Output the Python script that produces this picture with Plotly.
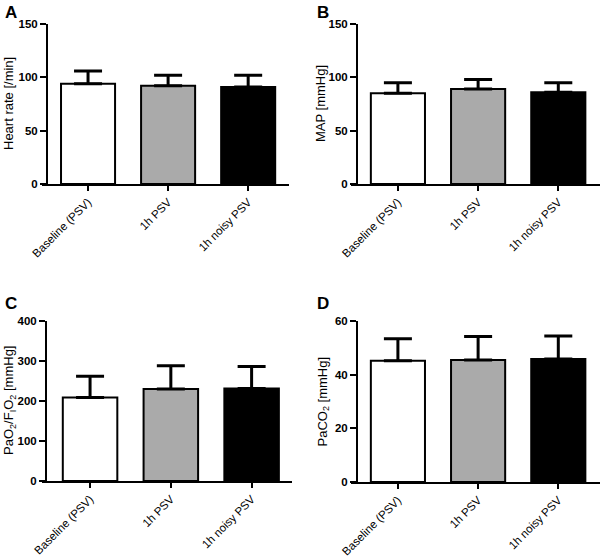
import plotly.graph_objects as go

categories = ["Baseline (PSV)", "1h PSV", "1h noisy PSV"]
bar_colors = ["#ffffff", "#aaaaaa", "#000000"]

hr_mean = [94, 92, 91]
hr_sd = [12, 10, 11]
map_mean = [85, 89, 86]
map_sd = [10, 9, 9]
pf_mean = [209, 230, 231]
pf_sd = [53, 58, 55]
paco2_mean = [45.2, 45.5, 45.8]
paco2_sd = [8.2, 8.7, 8.6]

W, H = 600, 558
FONT = "Liberation Sans, Arial, sans-serif"

panels = [
    dict(letter="A", mean=hr_mean, sd=hr_sd, yr=[0, 150], dt=50, title="Heart rate [/min]",
         xl=42, ya=47, xr=289, top=24, bot=184, xrange=[-0.575, 2.51], tx=9, lx=3, ly=1),
    dict(letter="B", mean=map_mean, sd=map_sd, yr=[0, 150], dt=50, title="MAP [mmHg]",
         xl=351, ya=357, xr=600, top=24, bot=184, xrange=[-0.585, 2.52], tx=321, lx=315, ly=1),
    dict(letter="C", mean=pf_mean, sd=pf_sd, yr=[0, 400], dt=100,
         title="PaO<sub>2</sub>/F<sub>I</sub>O<sub>2</sub> [mmHg]",
         xl=42, ya=46, xr=292, top=321, bot=481, xrange=[-0.595, 2.50], tx=9, lx=3, ly=292),
    dict(letter="D", mean=paco2_mean, sd=paco2_sd, yr=[0, 60], dt=20,
         title="PaCO<sub>2</sub> [mmHg]",
         xl=351, ya=357, xr=600, top=321, bot=482, xrange=[-0.585, 2.52], tx=323, lx=315, ly=292),
]

fig = go.Figure()
annotations = []
for i, p in enumerate(panels):
    n = "" if i == 0 else str(i + 1)
    xa, yaN = "x" + n, "y" + n
    fig.add_trace(go.Bar(
        x=[0, 1, 2], y=p["mean"], xaxis=xa, yaxis=yaN,
        width=0.675,
        marker=dict(color=bar_colors, line=dict(color="black", width=2)),
        error_y=dict(type="data", array=p["sd"], arrayminus=[0, 0, 0], symmetric=False,
                     color="black", thickness=3, width=14),
        showlegend=False,
    ))
    xdom = [p["xl"] / W, p["xr"] / W]
    ydom = [1 - p["bot"] / H, 1 - p["top"] / H]
    fig.update_layout(**{
        "xaxis" + n: dict(domain=xdom, range=p["xrange"], anchor=yaN, automargin=False,
                          tickvals=[0, 1, 2], ticktext=categories, tickangle=-45,
                          showline=True, linewidth=2, linecolor="black",
                          ticks="outside", ticklen=5, tickwidth=2, tickcolor="black",
                          showgrid=False, zeroline=False,
                          tickfont=dict(family=FONT, size=11.5, color="black")),
        "yaxis" + n: dict(domain=ydom, range=p["yr"], dtick=p["dt"], anchor="free",
                          position=p["ya"] / W, automargin=False,
                          showline=True, linewidth=2, linecolor="black",
                          ticks="outside", ticklen=6, tickwidth=2, tickcolor="black",
                          showgrid=False, zeroline=False,
                          tickfont=dict(family=FONT, size=11.5, color="black", weight="bold")),
    })
    annotations.append(dict(text=p["title"], x=p["tx"] / W, y=1 - (p["top"] + p["bot"]) / 2 / H,
                            xref="paper", yref="paper", textangle=-90, showarrow=False,
                            xanchor="center", yanchor="middle",
                            font=dict(family=FONT, size=13, color="black")))
    annotations.append(dict(text="<b>" + p["letter"] + "</b>", x=p["lx"] / W, y=1 - p["ly"] / H,
                            xref="paper", yref="paper", showarrow=False,
                            xanchor="left", yanchor="top",
                            font=dict(family=FONT, size=17, color="black")))

fig.update_layout(width=W, height=H, margin=dict(l=0, r=0, t=0, b=0, autoexpand=False),
                  plot_bgcolor="white", paper_bgcolor="white",
                  annotations=annotations, bargap=0.3)
fig.write_html("out.html", config={"displayModeBar": False},
               post_script="document.body.style.margin='0';")
